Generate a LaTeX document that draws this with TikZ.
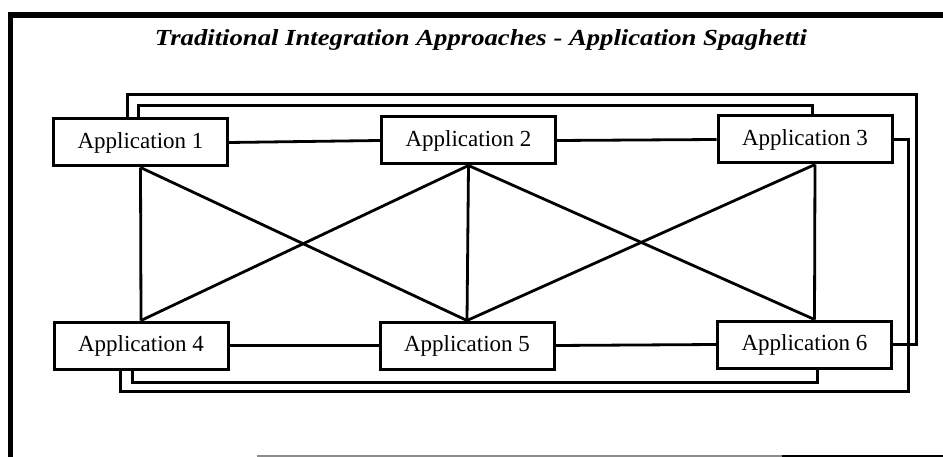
\documentclass[tikz,border=0pt]{standalone}
\usepackage{fontspec}
\setmainfont{Liberation Serif}
\newfontfamily\titlefont[FakeStretch=1.16]{Liberation Serif}
\begin{document}
\begin{tikzpicture}[x=1pt, y=-1pt,
  appbox/.style={draw, line width=3pt, minimum width=174pt, minimum height=47pt,
    inner sep=0pt, font=\fontsize{23}{26}\selectfont},
  link/.style={line width=2.8pt},
  wrap/.style={line width=3pt},
  frameline/.style={line width=5.5pt}]
\useasboundingbox (0,0) rectangle (943,457);
\fill[white] (0,0) rectangle (943,457);

% outer frame
\draw[frameline] (8,15) -- (943,15);
\draw[line width=5pt] (10,12.5) -- (10,457);
\draw[line width=1.6pt, black!45] (257,456) -- (782,456);
\draw[line width=1.8pt] (782,456) -- (943,456);

% title
\node[anchor=base, font=\titlefont\fontsize{23}{26}\selectfont\bfseries\itshape] (title)
  at (481,46) {Traditional Integration Approaches - Application Spaghetti};

% applications
\node[appbox] (a1) at (140.5,142.5) {Application 1};
\node[appbox] (a2) at (468.5,140.5) {Application 2};
\node[appbox] (a3) at (805,139.5) {Application 3};
\node[appbox] (a4) at (141,345.5) {Application 4};
\node[appbox] (a5) at (467,345.5) {Application 5};
\node[appbox] (a6) at (804.5,344.5) {Application 6};

% anchor points shared by the cross links
\coordinate (a3s) at ([xshift=10pt]a3.south);
\coordinate (a6n) at ([xshift=10pt]a6.north);

% horizontal links
\draw[link] (a1.east) -- (a2.west);
\draw[link] (a2.east) -- (a3.west);
\draw[link] (a4.east) -- (a5.west);
\draw[link] (a5.east) -- (a6.west);

% vertical links
\draw[link] (a1.south) -- (a4.north);
\draw[link] (a2.south) -- (a5.north);
\draw[link] (a3s) -- (a6n);

% crossing links
\draw[link] (a1.south) -- (a5.north);
\draw[link] (a4.north) -- (a2.south);
\draw[link] (a2.south) -- (a6n);
\draw[link] (a3s) -- (a5.north);

% wrap-around links
\coordinate (otop) at (916,95);
\coordinate (itop) at (812,106);
\coordinate (ibot) at (817,382);
\coordinate (obot) at (908,391);
\draw[wrap] ([xshift=-13.5pt]a1.north) |- (otop) |- (a6.east);
\draw[wrap] ([xshift=-2.5pt]a1.north) |- (itop) -- ([xshift=7pt]a3.north);
\draw[wrap] ([xshift=-9pt]a4.south) |- (ibot) -- ([xshift=12.5pt]a6.south);
\draw[wrap] ([xshift=-21pt]a4.south) |- (obot) |- (a3.east);
\end{tikzpicture}
\end{document}
